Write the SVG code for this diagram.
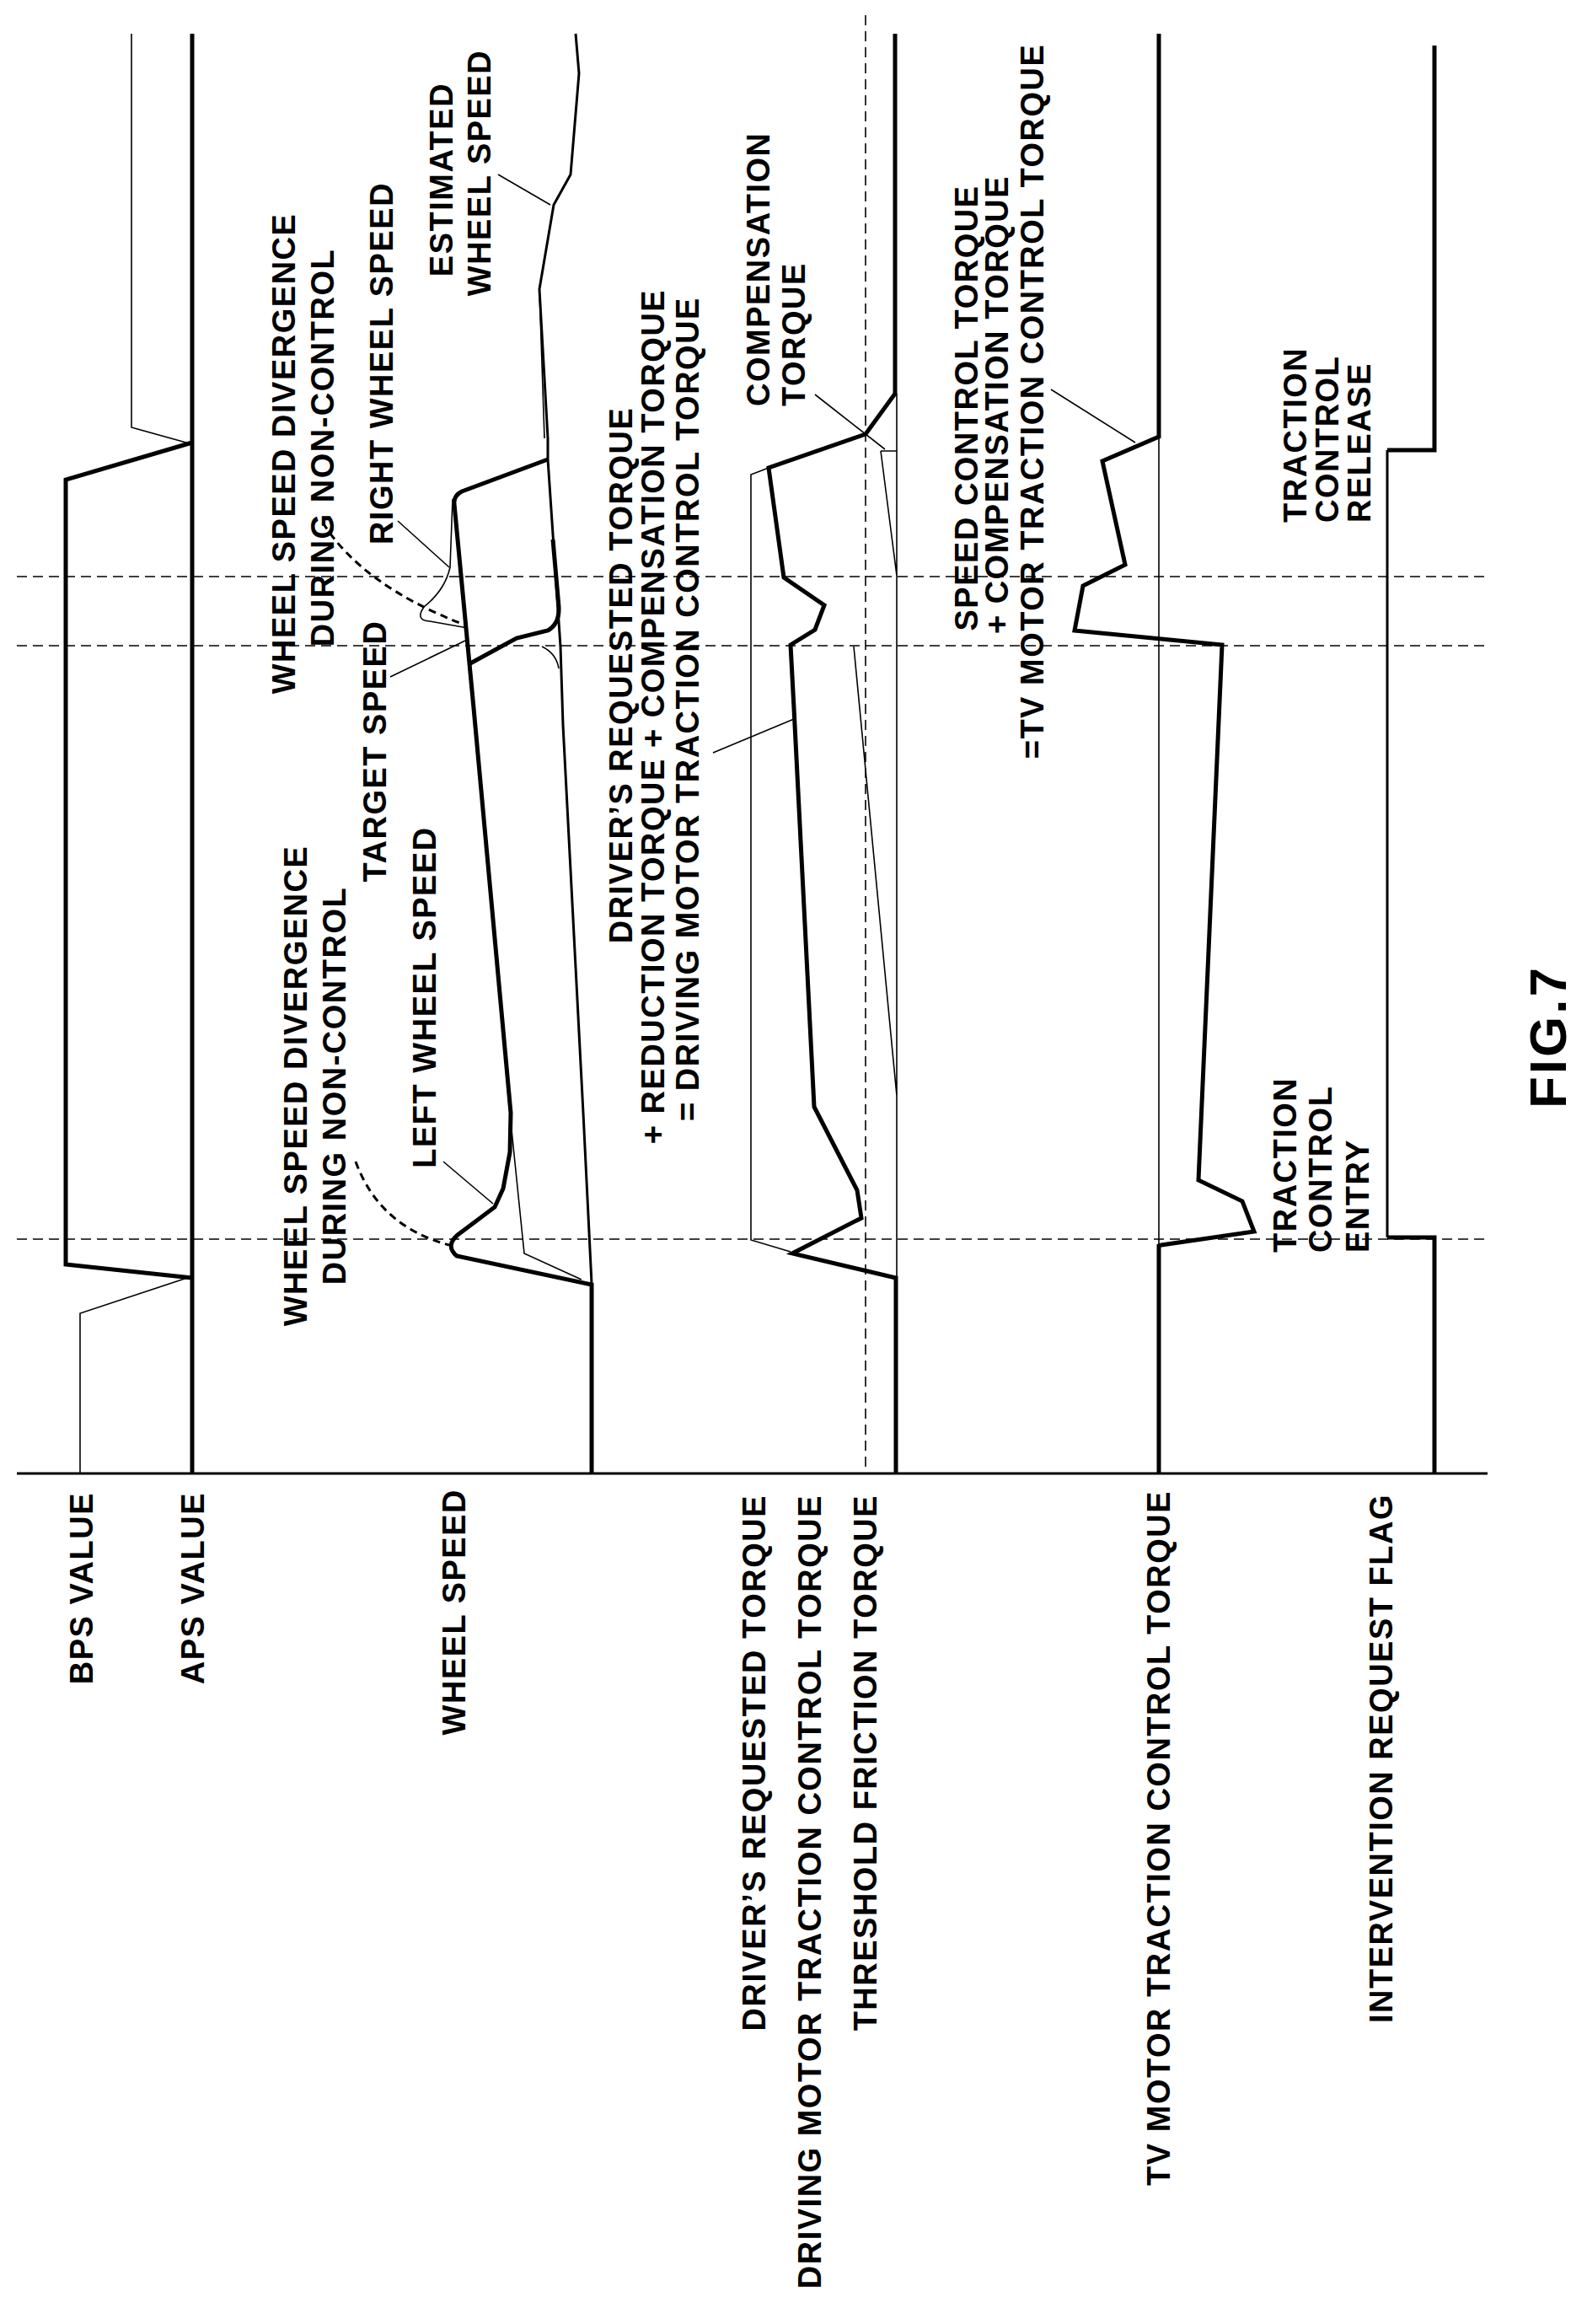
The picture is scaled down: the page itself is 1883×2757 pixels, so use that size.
<svg xmlns="http://www.w3.org/2000/svg" width="1883" height="2757" viewBox="0 0 1883 2757">
<style>
.t{font-family:"Liberation Sans",Arial,sans-serif;font-weight:bold;font-size:38px;letter-spacing:1.5px;fill:#000}
.k{fill:none;stroke:#000;stroke-width:5;stroke-linejoin:miter}
.m{fill:none;stroke:#000;stroke-width:3}
.n{fill:none;stroke:#000;stroke-width:1.6}
.d{fill:none;stroke:#000;stroke-width:1.6;stroke-dasharray:12 7}
.dc{fill:none;stroke:#000;stroke-width:3;stroke-dasharray:9 6}
</style>
<rect width="1883" height="2757" fill="#fff"/>
<g id="grid">
<path class="m" d="M20,1748 L1765,1748"/>
<path class="d" d="M20,684 L1765,684 M20,766 L1765,766 M20,1470 L1765,1470"/>
<path class="d" d="M1027,18 L1027,1748"/>
</g>
<g id="bps-aps">
<path class="n" d="M156,40 L156,507 L228,527"/>
<path class="k" d="M228,525 L78,569 L78,1500 L228,1516"/>
<path class="k" d="M228,40 L228,1748"/>
<path class="n" d="M95,1748 L95,1558 L228,1514"/>
</g>
<g id="wheel-speed">
<path class="m" d="M683,40 L687,87 L677,207 L657,243 L640,343 L650,520 L650,545 L665,767 L668,860 L692,1320 L702,1523"/>
<path class="n" d="M640,343 L646,520"/>
<path class="k" d="M650,545 L548,583 Q538,588 539,598 L562,840 L606,1320 L605,1367 L597,1410 L587,1432 L543,1465 Q528,1478 542,1490 L702,1524 L702,1748"/>
<path class="k" d="M558,787 L613,757 L650,748 Q664,740 663,720 L656,640"/>
<path class="n" d="M537,592 L534,673 Q528,700 503,720 Q492,736 510,737 L555,745"/>
<path class="n" d="M643,767 Q660,775 663,793"/>
<path class="n" d="M690,1518 L622,1487 L608,1350 L603,1300"/>
<path class="dc" d="M383,620 Q430,695 553,742"/>
<path class="dc" d="M422,1378 Q450,1455 533,1477"/>
<path class="n" d="M472,618 L533,673 M463,803 L552,760 M526,1378 L585,1428 M591,207 L653,243"/>
</g>
<g id="torque">
<path class="k" d="M1062,40 L1062,467 L1027,515 L912,555 L930,685 L978,718 L967,747 L938,765 L942,840 L966,1313 L1017,1412 L1022,1445 L940,1487 L1063,1516 L1063,1748"/>
<path class="n" d="M912,555 L891,563 L891,1471 L938,1485"/>
<path class="n" d="M1064,467 L1064,1516 M1045,535 L1064,535 M1045,535 L1064,683 M1013,767 L1064,1300"/>
<path class="n" d="M967,468 L1050,533 M846,893 L942,853"/>
</g>
<g id="tv">
<path class="k" d="M1375,40 L1375,518 L1308,547 L1335,670 L1285,695 L1275,748 L1450,765 L1422,1400 L1474,1425 L1488,1461 L1378,1477 L1375,1478 L1375,1748"/>
<path class="n" d="M1375,518 L1375,1478 M1247,462 L1347,525"/>
</g>
<g id="flag">
<path class="k" d="M1702,54 L1702,534 L1646,534"/>
<path class="m" d="M1646,534 L1646,1468"/>
<path class="k" d="M1646,1468 L1702,1468 L1702,1748"/>
</g>
<g id="labels-axis">
<text class="t" text-anchor="end" transform="translate(110,1770) rotate(-90)">BPS VALUE</text>
<text class="t" text-anchor="end" transform="translate(242,1770) rotate(-90)">APS VALUE</text>
<text class="t" text-anchor="end" transform="translate(552,1766) rotate(-90)">WHEEL SPEED</text>
<text class="t" text-anchor="end" transform="translate(908,1773) rotate(-90)">DRIVER’S REQUESTED TORQUE</text>
<text class="t" text-anchor="end" transform="translate(974,1773) rotate(-90)">DRIVING MOTOR TRACTION CONTROL TORQUE</text>
<text class="t" text-anchor="end" transform="translate(1040,1773) rotate(-90)">THRESHOLD FRICTION TORQUE</text>
<text class="t" text-anchor="end" transform="translate(1388,1768) rotate(-90)">TV MOTOR TRACTION CONTROL TORQUE</text>
<text class="t" text-anchor="end" transform="translate(1652,1772) rotate(-90)">INTERVENTION REQUEST FLAG</text>
</g>
<g id="labels-plot">
<text class="t" text-anchor="middle" transform="translate(350,538) rotate(-90)">WHEEL SPEED DIVERGENCE</text>
<text class="t" text-anchor="middle" transform="translate(396,531) rotate(-90)">DURING NON-CONTROL</text>
<text class="t" text-anchor="middle" transform="translate(466,431) rotate(-90)">RIGHT WHEEL SPEED</text>
<text class="t" text-anchor="middle" transform="translate(458,891) rotate(-90)">TARGET SPEED</text>
<text class="t" text-anchor="middle" transform="translate(537,213) rotate(-90)">ESTIMATED</text>
<text class="t" text-anchor="middle" transform="translate(582,205) rotate(-90)">WHEEL SPEED</text>
<text class="t" text-anchor="middle" transform="translate(364,1288) rotate(-90)">WHEEL SPEED DIVERGENCE</text>
<text class="t" text-anchor="middle" transform="translate(410,1288) rotate(-90)">DURING NON-CONTROL</text>
<text class="t" text-anchor="middle" transform="translate(517,1183) rotate(-90)">LEFT WHEEL SPEED</text>
<text class="t" text-anchor="start" transform="translate(913,482) rotate(-90)">COMPENSATION</text>
<text class="t" text-anchor="start" transform="translate(955,482) rotate(-90)">TORQUE</text>
<text class="t" text-anchor="middle" transform="translate(750,801) rotate(-90)">DRIVER’S REQUESTED TORQUE</text>
<text class="t" text-anchor="middle" transform="translate(788,850) rotate(-90)">+ REDUCTION TORQUE + COMPENSATION TORQUE</text>
<text class="t" text-anchor="middle" transform="translate(829,841) rotate(-90)">= DRIVING MOTOR TRACTION CONTROL TORQUE</text>
<text class="t" text-anchor="middle" transform="translate(1160,484) rotate(-90)">SPEED CONTROL TORQUE</text>
<text class="t" text-anchor="middle" transform="translate(1196,480) rotate(-90)">+ COMPENSATION TORQUE</text>
<text class="t" text-anchor="middle" transform="translate(1238,476) rotate(-90)">=TV MOTOR TRACTION CONTROL TORQUE</text>
<text class="t" text-anchor="start" transform="translate(1550,620) rotate(-90)">TRACTION</text>
<text class="t" text-anchor="start" transform="translate(1588,620) rotate(-90)">CONTROL</text>
<text class="t" text-anchor="start" transform="translate(1626,620) rotate(-90)">RELEASE</text>
<text class="t" text-anchor="start" transform="translate(1538,1486) rotate(-90)">TRACTION</text>
<text class="t" text-anchor="start" transform="translate(1580,1486) rotate(-90)">CONTROL</text>
<text class="t" text-anchor="start" transform="translate(1624,1486) rotate(-90)">ENTRY</text>
<text class="t" text-anchor="middle" style="font-size:62px;letter-spacing:3px" transform="translate(1858,1230) rotate(-90)">FIG.7</text>
</g>
</svg>
